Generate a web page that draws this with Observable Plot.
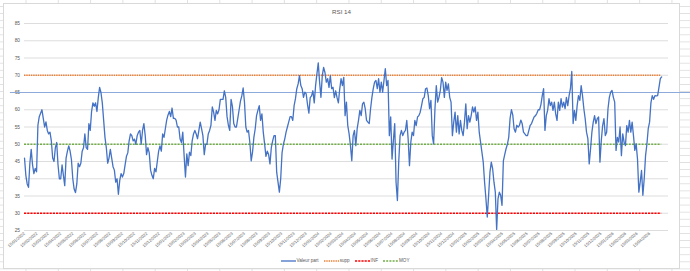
<!DOCTYPE html>
<html><head><meta charset="utf-8">
<script src="https://cdn.jsdelivr.net/npm/d3@7"></script>
<script src="https://cdn.jsdelivr.net/npm/@observablehq/plot@0.6"></script>
<style>
html,body{margin:0;padding:0;width:690px;height:271px;overflow:hidden;}
body{position:relative;background-color:#fff;
background-image:linear-gradient(to right,#e0e0e0 1px,transparent 1px),linear-gradient(to bottom,#e0e0e0 1px,transparent 1px);
background-size:32.3px 7.1px;background-position:25.5px 6px;font-family:"Liberation Sans",Arial,sans-serif;}
#box{position:absolute;left:3px;top:3px;width:675px;height:264px;background:#fff;border:1px solid #d9d9d9;}
#chart{position:absolute;left:0;top:0;}
#chart svg{overflow:visible;}
#title{position:absolute;left:3px;width:677px;top:8px;text-align:center;font-size:6.2px;color:#595959;}
#legend{position:absolute;left:0;width:690px;top:258px;display:flex;justify-content:center;gap:5px;font-size:4.6px;color:#595959;padding-left:0px;}
#legend span.item{display:flex;align-items:center;gap:1px;}
</style></head>
<body>
<div id="box"></div>
<div id="title">RSI 14</div>
<div id="chart"></div>
<div id="legend"></div>
<script>
// RSI values (evenly spaced from 15/01/2022 to 15/05/2026)
const rsi2022a = [46,41,38.5,37.5,44.5,48.5,44,41.5,43,42,55.5,58,59,60,57.5,55,56.5,54,53,53.5,
51,46,45,49,50.5,44,40,40,44,41,38,46,48,49.5,48,45.5,40,37,36,38.5,
44.5,43.5,44.5,48,49,53,49,48.5,56,54,59.5,62,61,62,59.5,63.5,66.5,65,62,57,
52,49,44.5,46,48.5,46,43.5,42.5,39,40,35.5,39.5,41.5,40.5,41.5,44,46.5,47.5,51,53,
52.5,51,51.5,50,52.5,53.5,54,50,54,56,52.5,47,49,47.5,42.5,41,40,43,42,45,
48,49.5,48,53,52,54.5,57,58.5,59.5,58,60.5,57.5,57.5,57,55,55,51.5,50.5];
const rsi2023 = [53.5,46.7,40.5,47.2,43.8,47.7,46.7,51,53,54,53,51.6,54,56.4,54.5,52.5,47,50,50,53,
54,55.5,60.8,59.3,56.9,59.8,58.8,60,63,63,63,65.5,63.6,58,55.5,54,63,61,56,55,
55,57.5,60,62.5,64,66.3,62.2,55,53.5,54,50.5,45.2,47.7,52,54.5,58.3,59.8,61.2,56.9,58.8,
53.5,50.1,46.5,48,47,44.3,49,51,52.5,52.5,41.9,39,36.1,40,47.5,50,51.5,53.5,55,56.5,
58,58,56.9,61.2,63.2,66.1,67.5,69.9,67,66.1,63.6,65.1,64.6,61.5,59,63.5,64,65.5,62,67,
70.4,73.6,68,63.6,69.9,72.3,70.8,68,69,66.5,69.9,66.1,66.5,63.5,65.5,63.5,62,66,69];
const rsi2024 = [67,69.4,58.3,62.2,55.4,53,49.6,45.2,52.5,54,49.6,54.5,56.9,59.8,58.3,61.7,62.2,60.3,56.9,56.4,
56,60.3,63.6,66.1,68,68.5,66.1,69,65.1,68,65.1,68.5,71.9,67,68.5,52.5,57.9,45.7,51.1,56,
39,33.7,45,52.5,54,52.5,53.5,54,56.9,51.6,43.8,50.6,53.5,52.5,56.9,55.4,57.9,58.3,59.3,61.2,
63.2,63.6,66.1,66.3,64.1,60.3,62.7,52.5,50.1,60.3,67,62.2,63.6,65.6,69.3,68,63.6,68,65.6,67.5,
63.6,62.2,52.5,56.4,59.3,53.5,58.3,53,56.9,54,52.5,56.4,61.7,54.5,58.3,56.4,58.3,60.8,59.3,60.8,
56.9,59.3,53.5,50.6,47.7,44.8,39,34.2,28.9,35.2,41.9,44.8,42.9,39,36.1,25.3,34.2,36.1,35.2];
const rsi2025 = [32.3,45.2,47,48.7,50,52,57.5,60,58.5,54.5,53.5,55.5,55,55.5,57,56,53.5,53,52.5,52.5,
54,55.5,56,57,58,58.3,59,60,60,61.5,64.1,66.1,54,58.3,59.8,63.2,61.2,62.2,59.8,62.2,
58.8,56.9,62.2,59.8,63.2,60.8,62.2,60.3,63.6,61.2,64.1,66.1,71.1,56,59.8,56.9,61.2,64.1,62.7,67,
64.1,60.3,57.4,53.5,51.6,44.3,48.7,53.5,56.4,58.3,56,57.4,57.9,44.8,51.1,55.4,57.4,52.5,53.5,60.3,
63.6,65.1,65.6,63.6,62.2,48.2,52,50.6,55,46.7,53,50.6,49.6,55.4,53.5,56.9,53.5,56.4,52.5,48.2,
50.1,45.7,36.1,39,42.4,35.2,40,46.7,50,54.5,56.4,62,64.1,63,64.1,64,64.1,66.5,69,69.5];

const seriesNames = ["Valeur part","supp","INF","MOY"];
const seriesColors = ["#4472C4","#ED7D31","#FF0000","#70AD47"];
const levels = {supp:70, INF:30, MOY:50};
const markerLevel = 65;
const yTicks = [25,30,35,40,45,50,55,60,65,70,75,80,85];
const firstDate = "2022-01-15", lastDate = "2026-05-15", axisEndDate = "2026-06-01";
const markerFrom = "2021-12-11", markerTo = "2026-07-27";
const tickMonths = 52;

const values = [...rsi2022a, ...rsi2023, ...rsi2024, ...rsi2025];
const t0 = new Date(firstDate), t1 = new Date(lastDate);
const n = values.length;
const data = values.map((v,i)=>({date:new Date(+t0 + (t1 - t0) * i / (n - 1)), rsi:v}));
const tickDates = d3.range(tickMonths).map(i => new Date(Date.UTC(2022, i, 15)));
const fmt = d3.utcFormat("%d/%m/%Y");
const refData = [
  {y:levels.supp, x1:t0, x2:t1, k:"supp"},
  {y:levels.INF, x1:t0, x2:t1, k:"INF"},
  {y:levels.MOY, x1:t0, x2:t1, k:"MOY"}
];
const dash = {supp:"1.4,0.9", INF:"2.2,1", MOY:"2,1.2"};

const chart = Plot.plot({
  width: 690, height: 260,
  marginLeft: 24, marginRight: 22, marginTop: 23, marginBottom: 30,
  style: {background:"transparent", fontFamily:"Liberation Sans, Arial, sans-serif", color:"#595959"},
  x: {type:"utc", domain:[t0, new Date(axisEndDate)]},
  y: {domain:[25,85]},
  marks: [
    Plot.gridY(yTicks, {stroke:"#d9d9d9", strokeOpacity:1, strokeWidth:0.9}),
    Plot.axisY(yTicks, {tickSize:0, tickPadding:4.5, fontSize:4.8, fill:"#595959"}),
    Plot.axisX(tickDates, {tickSize:0, tickPadding:2.5, tickRotate:-40, fontSize:4.2, fill:"#595959", tickFormat: fmt}),
    ...refData.map(r => Plot.ruleY([r], {y:"y", x1:"x1", x2:"x2", stroke:seriesColors[seriesNames.indexOf(r.k)], strokeWidth:1.3, strokeDasharray:dash[r.k]})),
    Plot.ruleY([{y:markerLevel, x1:new Date(markerFrom), x2:new Date(markerTo)}], {y:"y", x1:"x1", x2:"x2", stroke:"#8eaadb", strokeWidth:1.2, clip:false}),
    Plot.lineY(data, {x:"date", y:"rsi", stroke:seriesColors[0], strokeWidth:1.3})
  ]
});
document.getElementById("chart").appendChild(chart);

const legend = document.getElementById("legend");
seriesNames.forEach((name,i)=>{
  const d = i===0 ? "" : `stroke-dasharray="${dash[name]}"`;
  const item = document.createElement("span");
  item.className = "item";
  item.innerHTML = `<svg width="15" height="4"><line x1="0" x2="15" y1="2" y2="2" stroke="${seriesColors[i]}" stroke-width="1.3" ${d}/></svg><span>${name}</span>`;
  legend.appendChild(item);
});
</script>
</body></html>
